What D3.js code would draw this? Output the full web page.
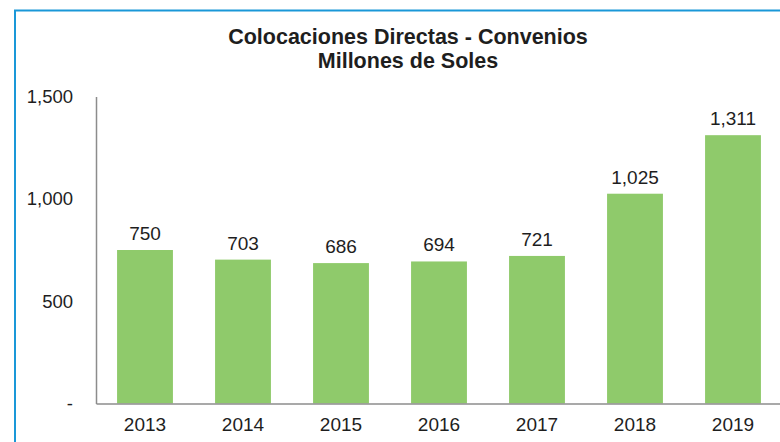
<!DOCTYPE html>
<html>
<head>
<meta charset="utf-8">
<script src="https://cdn.jsdelivr.net/npm/d3@7"></script>
<style>
  body { margin: 0; background: #fff; }
  svg { display: block; font-family: "Liberation Sans", Arial, sans-serif; }
</style>
</head>
<body>
<div id="chart"></div>
<script>
// Data
const YEARS = ["2013", "2014", "2015", "2016", "2017", "2018", "2019"];
const VALUES = [750, 703, 686, 694, 721, 1025, 1311];
const Y_TICKS = [0, 500, 1000, 1500];
const TITLE_LINES = ["Colocaciones Directas - Convenios", "Millones de Soles"];

const COLORS = {
  bar: "#8fca6b",
  axis: "#8c8c8c",
  text: "#1e1e1e",
  frame: "#1a98d8",
};
const WIDTH = 780, HEIGHT = 442;
const LABEL_SIZE = 19;

const svg = d3.select("#chart")
  .append("svg")
  .attr("width", WIDTH)
  .attr("height", HEIGHT);

// outer frame (only top and left visible in the crop)
svg.append("path")
  .attr("d", `M15,${HEIGHT} V10.5 H${WIDTH}`)
  .attr("fill", "none")
  .attr("stroke", COLORS.frame)
  .attr("stroke-width", 2);

const x = d3.scaleBand()
  .domain(YEARS)
  .range([96, 782])
  .paddingInner(0.43)
  .paddingOuter(0.215);

const y = d3.scaleLinear()
  .domain([0, 1500])
  .range([403.5, 96.5]);

const fmt = d3.format(",");

// title
svg.append("g")
  .selectAll("text")
  .data(TITLE_LINES)
  .join("text")
  .attr("x", 408)
  .attr("y", (d, i) => 44 + i * 24)
  .attr("text-anchor", "middle")
  .attr("font-size", 21.5)
  .attr("font-weight", "bold")
  .attr("fill", COLORS.text)
  .text((d) => d);

// bars
svg.append("g")
  .selectAll("rect")
  .data(VALUES)
  .join("rect")
  .attr("x", (d, i) => x(YEARS[i]))
  .attr("y", (d) => y(d))
  .attr("width", x.bandwidth())
  .attr("height", (d) => y(0) - y(d))
  .attr("fill", COLORS.bar);

// value labels
svg.append("g")
  .selectAll("text")
  .data(VALUES)
  .join("text")
  .attr("x", (d, i) => x(YEARS[i]) + x.bandwidth() / 2)
  .attr("y", (d) => y(d) - 10)
  .attr("text-anchor", "middle")
  .attr("font-size", LABEL_SIZE)
  .attr("fill", COLORS.text)
  .text((d) => fmt(d));

// y axis
const yAxis = svg.append("g")
  .attr("transform", "translate(96,0)")
  .call(d3.axisLeft(y).tickValues(Y_TICKS).tickSize(0).tickPadding(23)
    .tickFormat((d) => (d === 0 ? "-" : fmt(d))));
yAxis.select(".domain").attr("stroke", COLORS.axis).attr("stroke-width", 1.5);
yAxis.selectAll("text")
  .attr("font-size", 18.5)
  .attr("font-family", "Liberation Sans, Arial, sans-serif")
  .attr("fill", COLORS.text);

// x axis
const xAxis = svg.append("g")
  .attr("transform", `translate(0,${y(0)})`)
  .call(d3.axisBottom(x).tickSize(0).tickPadding(14));
xAxis.select(".domain").attr("stroke", COLORS.axis).attr("stroke-width", 1.5);
xAxis.selectAll("text")
  .attr("font-size", LABEL_SIZE)
  .attr("font-family", "Liberation Sans, Arial, sans-serif")
  .attr("fill", COLORS.text);
</script>
</body>
</html>
